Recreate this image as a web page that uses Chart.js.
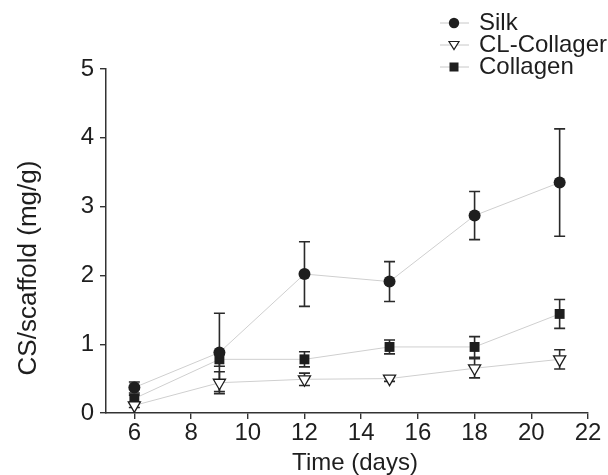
<!DOCTYPE html>
<html>
<head>
<meta charset="utf-8">
<script src="https://cdn.jsdelivr.net/npm/chart.js@4/dist/chart.umd.min.js"></script>
<style>
  html, body { margin: 0; padding: 0; background: #fff; }
  #wrap { width: 608px; height: 475px; position: relative; }
</style>
</head>
<body>
<div id="wrap"><canvas id="c" width="608" height="475"></canvas></div>
<script>
const days = [6, 9, 12, 15, 18, 21];
const silk = [0.37, 0.88, 2.02, 1.91, 2.87, 3.35];
const silkErr = [0.08, 0.57, 0.47, 0.29, 0.35, 0.78];
const clCollagen = [0.11, 0.44, 0.49, 0.50, 0.65, 0.78];
const clCollagenErr = [0.03, 0.16, 0.09, 0.04, 0.14, 0.14];
const collagen = [0.21, 0.78, 0.78, 0.96, 0.96, 1.44];
const collagenErr = [0.05, 0.10, 0.11, 0.10, 0.15, 0.21];
const seriesNames = ['Silk', 'CL-Collager', 'Collagen'];
const xTicks = [6, 8, 10, 12, 14, 16, 18, 20, 22];
const yTicks = [0, 1, 2, 3, 4, 5];
const xTitle = 'Time (days)';
const yTitle = 'CS/scaffold (mg/g)';

const FONT = '"Liberation Sans", Arial, Helvetica, sans-serif';
const INK = '#1e1e1e';
const FS = 24;

function pts(vals) { return days.map((d, i) => ({ x: d, y: vals[i] })); }

const errs = [silkErr, clCollagenErr, collagenErr];

const errorBars = {
  id: 'errorBars',
  beforeDatasetsDraw(chart) {
    const ctx = chart.ctx;
    const xs = chart.scales.x, ys = chart.scales.y;
    ctx.save();
    ctx.strokeStyle = '#2a2a2a';
    ctx.lineWidth = 1.6;
    chart.data.datasets.forEach((ds, di) => {
      const e = errs[di];
      ds.data.forEach((p, i) => {
        const x = xs.getPixelForValue(p.x);
        const yt = ys.getPixelForValue(p.y + e[i]);
        const yb = ys.getPixelForValue(Math.max(0, p.y - e[i]));
        ctx.beginPath();
        ctx.moveTo(x, yt); ctx.lineTo(x, yb);
        ctx.moveTo(x - 5.5, yt); ctx.lineTo(x + 5.5, yt);
        ctx.moveTo(x - 5.5, yb); ctx.lineTo(x + 5.5, yb);
        ctx.stroke();
      });
    });
    ctx.restore();
  }
};

const titlesPlugin = {
  id: 'axisTitles',
  afterDraw(chart) {
    const ctx = chart.ctx;
    ctx.save();
    ctx.fillStyle = INK;
    ctx.textAlign = 'center';
    ctx.textBaseline = 'middle';
    ctx.font = FS + 'px ' + FONT;
    ctx.fillText(xTitle, 355, 463);
    ctx.translate(29, 268);
    ctx.rotate(-Math.PI / 2);
    ctx.font = '26px ' + FONT;
    ctx.fillText(yTitle, 0, 0);
    ctx.restore();
  }
};

const legendPlugin = {
  id: 'customLegend',
  afterDraw(chart) {
    const ctx = chart.ctx;
    const rows = [23, 45, 67];
    ctx.save();
    rows.forEach((y, i) => {
      ctx.strokeStyle = '#c8c8c8';
      ctx.lineWidth = 1;
      ctx.beginPath();
      ctx.moveTo(440, y); ctx.lineTo(469, y);
      ctx.stroke();
      const mx = 454;
      ctx.fillStyle = INK;
      ctx.strokeStyle = INK;
      if (i === 0) {
        ctx.beginPath(); ctx.arc(mx, y, 5.2, 0, Math.PI * 2); ctx.fill();
      } else if (i === 1) {
        ctx.fillStyle = '#fff';
        ctx.lineWidth = 1.2;
        ctx.beginPath();
        ctx.moveTo(mx - 5, y - 3.5); ctx.lineTo(mx + 5, y - 3.5); ctx.lineTo(mx, y + 4.5); ctx.closePath();
        ctx.fill(); ctx.stroke();
      } else {
        ctx.fillRect(mx - 4.5, y - 4.5, 9, 9);
      }
      ctx.fillStyle = INK;
      ctx.font = FS + 'px ' + FONT;
      ctx.textBaseline = 'middle';
      ctx.textAlign = 'left';
      ctx.fillText(seriesNames[i], 479, y);
    });
    ctx.restore();
  }
};

const lineStyle = { borderColor: '#cfcfcf', borderWidth: 1, tension: 0, showLine: true };

new Chart(document.getElementById('c'), {
  type: 'line',
  data: {
    datasets: [
      Object.assign({ label: seriesNames[0], data: pts(silk), pointStyle: 'circle', pointRadius: 6,
        pointBackgroundColor: INK, pointBorderColor: INK, pointBorderWidth: 0 }, lineStyle),
      Object.assign({ label: seriesNames[1], data: pts(clCollagen), pointStyle: 'triangle', pointRadius: 7,
        pointRotation: 180, pointBackgroundColor: '#fff', pointBorderColor: INK, pointBorderWidth: 1.3 }, lineStyle),
      Object.assign({ label: seriesNames[2], data: pts(collagen), pointStyle: 'rect', pointRadius: 7,
        pointBackgroundColor: INK, pointBorderColor: INK, pointBorderWidth: 0 }, lineStyle)
    ]
  },
  options: {
    responsive: false,
    animation: false,
    layout: { padding: { left: 0, right: 20, top: 69, bottom: 0 } },
    plugins: { legend: { display: false }, tooltip: { enabled: false } },
    scales: {
      x: {
        type: 'linear', min: 5, max: 22,
        afterBuildTicks(s) { s.ticks = xTicks.map(v => ({ value: v })); },
        afterFit(s) { s.height = 62; },
        grid: { display: true, drawOnChartArea: false, drawTicks: true, tickLength: 6, color: '#333', lineWidth: 1.4 },
        border: { display: true, color: '#333', width: 1.5 },
        ticks: { font: { family: FONT, size: FS }, color: INK, padding: 0, maxRotation: 0, autoSkip: false },
        title: { display: false }
      },
      y: {
        type: 'linear', min: 0, max: 5,
        afterBuildTicks(s) { s.ticks = yTicks.map(v => ({ value: v })); },
        afterFit(s) { s.width = 106; },
        grid: { display: true, drawOnChartArea: false, drawTicks: true, tickLength: 6, color: '#333', lineWidth: 1.4 },
        border: { display: true, color: '#333', width: 1.5 },
        ticks: { font: { family: FONT, size: FS }, color: INK, padding: 6 },
        title: { display: false }
      }
    }
  },
  plugins: [errorBars, titlesPlugin, legendPlugin]
});
</script>
</body>
</html>
